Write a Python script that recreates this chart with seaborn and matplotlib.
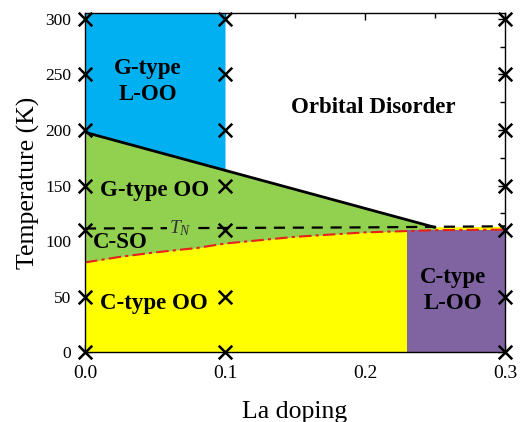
import numpy as np
import pandas as pd
import matplotlib
matplotlib.use("Agg")
import matplotlib.pyplot as plt
import seaborn as sns

# ---- data ----
# boundary G-type L-OO / Orbital disorder (solid black)
bd_x = [0.0, 0.25]
bd_y = [198.0, 112.5]
# Neel temperature T_N (dashed black)
tn_x = [0.0, 0.1, 0.2, 0.3]
tn_y = [111.5, 112.0, 112.5, 113.5]
# C-SO / C-type OO boundary (red dash-dot)
so_x = [0.0, 0.025, 0.05, 0.08, 0.1, 0.15, 0.2, 0.25, 0.3]
so_y = [81.0, 86.0, 90.0, 94.0, 98.0, 104.0, 108.0, 110.0, 110.5]
# C-type L-OO block
cl_x = [0.23, 0.3]
cl_top = 110.0
# G-type L-OO block
gl_x = [0.0, 0.1]
# measured points
pt_x = [0.0] * 7 + [0.1] * 7 + [0.3] * 7
pt_y = [0, 50, 110, 150, 200, 250, 300] * 3

YMAX = 305

sns.set_theme(style="ticks")
plt.rcParams["font.family"] = ["Liberation Serif", "DejaVu Serif"]
plt.rcParams["mathtext.fontset"] = "custom"
plt.rcParams["mathtext.rm"] = "Liberation Serif"
plt.rcParams["mathtext.it"] = "Liberation Serif:italic"
for k in ["text.color", "axes.labelcolor", "xtick.color", "ytick.color",
          "xtick.labelcolor", "ytick.labelcolor"]:
    plt.rcParams[k] = "black"

fig = plt.figure(figsize=(5.2, 4.22), dpi=100)
ax = fig.add_axes([0.1635, 0.1647, 0.8075, 0.8038])

c_yellow = "#FFFF00"
c_green = "#92D050"
c_blue = "#00B0F0"
c_purple = "#8064A2"

# yellow base (0 .. T_N)
xg = np.array(so_x)
ax.fill_between(xg, 0, np.interp(xg, tn_x, tn_y), color=c_yellow, lw=0, zorder=1)
# green (red curve .. black line) up to 0.25
m = xg <= 0.25
ax.fill_between(xg[m], np.array(so_y)[m], np.interp(xg[m], bd_x, bd_y),
                color=c_green, lw=0, zorder=2)
# blue block
xb = np.array(gl_x)
ax.fill_between(xb, np.interp(xb, bd_x, bd_y), YMAX, color=c_blue, lw=0, zorder=2)
# purple block
ax.fill_between(cl_x, 0, cl_top, color=c_purple, lw=0, zorder=3)

# lines
df_bd = pd.DataFrame({"x": bd_x, "y": bd_y})
df_tn = pd.DataFrame({"x": tn_x, "y": tn_y})
df_so = pd.DataFrame({"x": so_x, "y": so_y})
sns.lineplot(data=df_bd, x="x", y="y", ax=ax, color="black", lw=2, zorder=5)
l_tn = sns.lineplot(data=df_tn, x="x", y="y", ax=ax, color="black", lw=1.6, zorder=5).lines[-1]
l_tn.set_dashes((5, 3.5))
l_so = sns.lineplot(data=df_so, x="x", y="y", ax=ax, color="#E8201A", lw=1.5, zorder=5).lines[-1]
l_so.set_dashes((6, 2, 1.5, 2))

# points
df_pt = pd.DataFrame({"x": pt_x, "y": pt_y})
sns.scatterplot(data=df_pt, x="x", y="y", ax=ax, marker="x", s=95, color="black",
                linewidth=1.8, zorder=7, clip_on=False)

# region labels
kw = dict(fontsize=16.5, fontweight="bold", ha="center", va="center", zorder=8,
          linespacing=1.3)
ax.text(0.045, 244, "G-type\nL-OO", **kw)
ax.text(0.2057, 220, "Orbital Disorder", **kw)
ax.text(0.05, 145.5, "G-type OO", **kw)
ax.text(0.0055, 98.5, "C-SO", fontsize=16.5, fontweight="bold", ha="left",
        va="center", zorder=8)
ax.text(0.049, 44.5, "C-type OO", **kw)
ax.text(0.263, 56, "C-type\nL-OO", **kw)
ax.text(0.068, 111.5, r"$T_N$", fontsize=14, ha="center", va="center", color="#333333",
        zorder=6, bbox=dict(facecolor=c_green, edgecolor="none", pad=1.5))

ax.set_xlim(0, 0.3)
ax.set_ylim(0, YMAX)
ax.set_xticks([0.0, 0.1, 0.2, 0.3])
ax.set_xticklabels(["0.0", "0.1", "0.2", "0.3"])
ax.set_xticks([0.05, 0.15, 0.25], minor=True)
ax.set_yticks([0, 50, 100, 150, 200, 250, 300])
ax.set_yticks(np.arange(25, 300, 50), minor=True)
ax.tick_params(which="both", direction="in", top=True, right=True, color="black",
               width=1.0)
ax.tick_params(which="major", length=5)
ax.tick_params(which="minor", length=3.5)
ax.tick_params(axis="x", labelsize=14, pad=9)
ax.tick_params(axis="y", labelsize=12.5, pad=10)
for s in ax.spines.values():
    s.set_color("black")
    s.set_linewidth(1.0)
    s.set_zorder(9)

ax.set_xlabel("La doping", fontsize=18.5, labelpad=14)
ax.set_ylabel("Temperature (K)", fontsize=18.5, labelpad=4)

fig.savefig("out.png", dpi=100)
